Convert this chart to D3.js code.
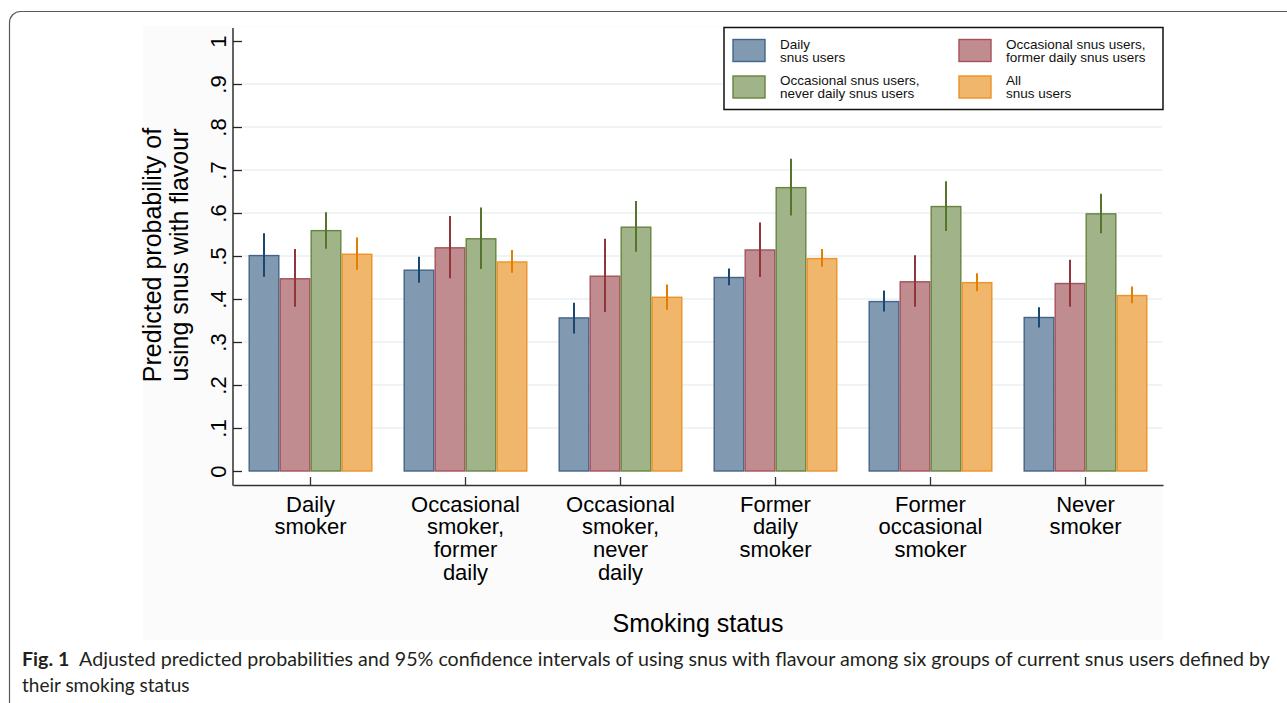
<!DOCTYPE html>
<html>
<head>
<meta charset="utf-8">
<script src="https://cdn.jsdelivr.net/npm/d3@7"></script>
<style>
  html, body { margin: 0; padding: 0; background: #ffffff; }
  svg { display: block; }
</style>
</head>
<body>
<div id="chart"></div>
<script>
// Groups on the x axis (label lines as printed)
const categories = ["Daily smoker", "Occasional smoker, former daily", "Occasional smoker, never daily",
  "Former daily smoker", "Former occasional smoker", "Never smoker"];
const categoryLines = [
  ["Daily", "smoker"],
  ["Occasional", "smoker,", "former", "daily"],
  ["Occasional", "smoker,", "never", "daily"],
  ["Former", "daily", "smoker"],
  ["Former", "occasional", "smoker"],
  ["Never", "smoker"]
];

// Series: predicted probability and 95% CI
const seriesNames = ["Daily snus users", "Occasional snus users, former daily snus users",
  "Occasional snus users, never daily snus users", "All snus users"];
const legendLines = [
  ["Daily", "snus users"],
  ["Occasional snus users,", "former daily snus users"],
  ["Occasional snus users,", "never daily snus users"],
  ["All", "snus users"]
];

const dailyUsers   = [0.501, 0.467, 0.356, 0.450, 0.394, 0.357];
const dailyUsersLo = [0.452, 0.438, 0.320, 0.432, 0.371, 0.334];
const dailyUsersHi = [0.553, 0.498, 0.391, 0.471, 0.420, 0.381];

const occFormerDaily   = [0.447, 0.519, 0.453, 0.514, 0.440, 0.436];
const occFormerDailyLo = [0.382, 0.448, 0.370, 0.451, 0.382, 0.382];
const occFormerDailyHi = [0.516, 0.593, 0.540, 0.578, 0.502, 0.491];

const occNeverDaily   = [0.559, 0.540, 0.567, 0.659, 0.615, 0.598];
const occNeverDailyLo = [0.517, 0.470, 0.510, 0.594, 0.558, 0.553];
const occNeverDailyHi = [0.602, 0.613, 0.628, 0.726, 0.674, 0.645];

const allUsers   = [0.504, 0.486, 0.404, 0.494, 0.438, 0.408];
const allUsersLo = [0.468, 0.461, 0.375, 0.475, 0.418, 0.390];
const allUsersHi = [0.543, 0.514, 0.434, 0.516, 0.460, 0.429];

const yTickValues = [0, 0.1, 0.2, 0.3, 0.4, 0.5, 0.6, 0.7, 0.8, 0.9, 1];
const yTickLabels = ["0", ".1", ".2", ".3", ".4", ".5", ".6", ".7", ".8", ".9", "1"];

document.addEventListener("DOMContentLoaded", function() {
  const W = 1287, H = 703;
  const fillColors = ["#8199b1", "#c18c8f", "#a1b489", "#efb66c"];
  const edgeColors = ["#426489", "#a5515a", "#65843f", "#ec9228"];
  const ciColors   = ["#1a476f", "#90353b", "#55752f", "#e37e00"];
  const font = "'Liberation Sans', Arial, Helvetica, sans-serif";

  const svg = d3.select("#chart").append("svg")
    .attr("width", W)
    .attr("height", H);

  // figure frame (rounded, runs off the right and bottom edges)
  svg.append("rect")
    .attr("x", 9.5).attr("y", 11.5)
    .attr("width", 1320).attr("height", 720)
    .attr("rx", 11)
    .attr("fill", "none")
    .attr("stroke", "#5a5a5a")
    .attr("stroke-width", 1.2);

  // graph region and plot region
  const plot = { left: 233, right: 1163, top: 27, bottom: 485 };
  svg.append("rect")
    .attr("x", 143).attr("y", 26)
    .attr("width", plot.right - 143).attr("height", 640 - 26)
    .attr("fill", "#fbfbfb");
  svg.append("rect")
    .attr("x", plot.left).attr("y", plot.top)
    .attr("width", plot.right - plot.left).attr("height", plot.bottom - plot.top)
    .attr("fill", "#ffffff");

  const x0 = d3.scaleBand()
    .domain(categories)
    .range([plot.left, plot.right])
    .paddingInner(0.2)
    .paddingOuter(0.1);

  const x1 = d3.scaleBand()
    .domain(seriesNames)
    .range([0, x0.bandwidth()]);

  const y = d3.scaleLinear()
    .domain([0, 1])
    .range([471, 41]);

  // gridlines
  svg.append("g")
    .selectAll("line")
    .data(yTickValues.filter(v => v > 0 && v < 1))
    .enter()
    .append("line")
    .attr("x1", plot.left + 10)
    .attr("x2", plot.right - 1)
    .attr("y1", d => y(d))
    .attr("y2", d => y(d))
    .attr("stroke", "#e9f1f3")
    .attr("stroke-width", 1.6);

  // y axis: ticks point into the plot, labels rotated
  const yAxis = svg.append("g")
    .attr("transform", `translate(${plot.left},0)`)
    .call(d3.axisLeft(y)
      .tickValues(yTickValues)
      .tickFormat((d, i) => yTickLabels[i])
      .tickSizeInner(-9)
      .tickSizeOuter(0));
  yAxis.select(".domain").remove();
  yAxis.selectAll(".tick line").attr("stroke", "#222").attr("stroke-width", 1.3);
  yAxis.selectAll(".tick text")
    .attr("transform", "rotate(-90)")
    .attr("x", 0)
    .attr("y", -7)
    .attr("dy", 0)
    .attr("text-anchor", "middle")
    .attr("fill", "#000")
    .style("font-family", font)
    .style("font-size", "22px");
  svg.append("line")
    .attr("x1", plot.left).attr("x2", plot.left)
    .attr("y1", 28).attr("y2", plot.bottom + 0.7)
    .attr("stroke", "#222").attr("stroke-width", 1.4);

  // x axis
  const xAxis = svg.append("g")
    .attr("transform", `translate(0,${plot.bottom})`)
    .call(d3.axisBottom(x0)
      .tickSizeInner(-8)
      .tickSizeOuter(0)
      .tickFormat(""));
  xAxis.select(".domain").attr("stroke", "#333").attr("stroke-width", 1.4);
  xAxis.selectAll(".tick line").attr("stroke", "#333").attr("stroke-width", 1.3);

  const xLabels = svg.append("g")
    .selectAll("text")
    .data(categories)
    .enter()
    .append("text")
    .attr("text-anchor", "middle")
    .attr("fill", "#000")
    .style("font-family", font)
    .style("font-size", "22px");
  xLabels.selectAll("tspan")
    .data((d, i) => categoryLines[i].map(t => ({ t: t, cat: d })))
    .enter()
    .append("tspan")
    .attr("x", d => x0(d.cat) + x0.bandwidth() / 2)
    .attr("y", (d, j) => plot.bottom + 26.5 + j * 22.8)
    .text(d => d.t);

  // bars
  const means = [dailyUsers, occFormerDaily, occNeverDaily, allUsers];
  const lows  = [dailyUsersLo, occFormerDailyLo, occNeverDailyLo, allUsersLo];
  const highs = [dailyUsersHi, occFormerDailyHi, occNeverDailyHi, allUsersHi];

  const rows = [];
  categories.forEach((c, i) => {
    seriesNames.forEach((s, k) => {
      rows.push({ cat: c, series: s, k: k, v: means[k][i], lo: lows[k][i], hi: highs[k][i] });
    });
  });

  svg.append("g")
    .selectAll("rect")
    .data(rows)
    .enter()
    .append("rect")
    .attr("x", d => x0(d.cat) + x1(d.series) + 0.7)
    .attr("y", d => y(d.v))
    .attr("width", x1.bandwidth() - 1.4)
    .attr("height", d => y(0) - y(d.v))
    .attr("fill", d => fillColors[d.k])
    .attr("stroke", d => edgeColors[d.k])
    .attr("stroke-width", 1.4);

  // confidence intervals
  svg.append("g")
    .selectAll("line")
    .data(rows)
    .enter()
    .append("line")
    .attr("x1", d => x0(d.cat) + x1(d.series) + x1.bandwidth() / 2)
    .attr("x2", d => x0(d.cat) + x1(d.series) + x1.bandwidth() / 2)
    .attr("y1", d => y(d.lo))
    .attr("y2", d => y(d.hi))
    .attr("stroke", d => ciColors[d.k])
    .attr("stroke-width", 2);

  // axis titles
  svg.append("text")
    .attr("x", 698).attr("y", 632)
    .attr("text-anchor", "middle")
    .style("font-family", font)
    .style("font-size", "25px")
    .text("Smoking status");

  const yTitle = svg.append("text")
    .attr("transform", "translate(0,255) rotate(-90)")
    .attr("text-anchor", "middle")
    .style("font-family", font)
    .style("font-size", "25px");
  yTitle.append("tspan").attr("x", 0).attr("y", 161).text("Predicted probability of");
  yTitle.append("tspan").attr("x", 0).attr("y", 188).text("using snus with flavour");

  // legend
  const legend = svg.append("g");
  legend.append("rect")
    .attr("x", 724).attr("y", 27.5)
    .attr("width", 439).attr("height", 82)
    .attr("fill", "#fff")
    .attr("stroke", "#111")
    .attr("stroke-width", 1.5);
  const legX = [733, 959], legY = [39.5, 76];
  const items = legend.selectAll(".legend-item")
    .data(seriesNames)
    .enter()
    .append("g")
    .attr("class", "legend-item")
    .attr("transform", (d, i) => `translate(${legX[i % 2]},${legY[Math.floor(i / 2)]})`);
  items.append("rect")
    .attr("width", 32).attr("height", 22)
    .attr("fill", (d, i) => fillColors[i])
    .attr("stroke", (d, i) => edgeColors[i])
    .attr("stroke-width", 1.4);
  const itemText = items.append("text")
    .style("font-family", font)
    .style("font-size", "13.5px")
    .attr("fill", "#111");
  itemText.selectAll("tspan")
    .data((d, i) => legendLines[i])
    .enter()
    .append("tspan")
    .attr("x", 47)
    .attr("y", (d, j) => 9 + j * 13.4)
    .text(d => d);

  // figure caption
  const capFont = "Lato, 'Open Sans', sans-serif";
  const cap1 = svg.append("text")
    .attr("x", 22).attr("y", 666)
    .attr("fill", "#231f20")
    .style("font-family", capFont)
    .style("font-size", "19px")
    .attr("textLength", 1248)
    .attr("lengthAdjust", "spacingAndGlyphs");
  cap1.append("tspan").style("font-weight", "bold").text("Fig. 1");
  cap1.append("tspan").text("\u2002Adjusted predicted probabilities and 95% confidence intervals of using snus with flavour among six groups of current snus users defined by");
  svg.append("text")
    .attr("x", 22).attr("y", 692)
    .attr("fill", "#231f20")
    .style("font-family", capFont)
    .style("font-size", "19px")
    .text("their smoking status");
});
</script>
</body>
</html>
